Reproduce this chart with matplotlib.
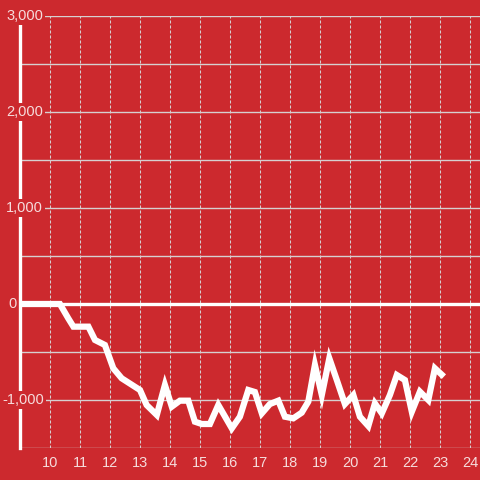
import matplotlib.pyplot as plt
from matplotlib.transforms import blended_transform_factory

# time (hour of day) and value
hours = [9.0, 10.33, 10.61, 10.78, 11.28, 11.5, 11.83, 12.11, 12.39, 13.0,
         13.22, 13.56, 13.83, 14.06, 14.33, 14.61, 14.83, 15.06, 15.33, 15.61,
         16.06, 16.33, 16.61, 16.83, 17.06, 17.33, 17.61, 17.83, 18.11, 18.39,
         18.61, 18.83, 19.06, 19.31, 19.56, 19.83, 20.11, 20.33, 20.61, 20.83,
         21.06, 21.33, 21.56, 21.83, 22.06, 22.33, 22.61, 22.83, 23.13]
values = [0, 0, -150, -236, -236, -375, -427, -670, -774, -896,
          -1052, -1156, -844, -1069, -1007, -1007, -1226, -1250, -1250, -1052,
          -1295, -1174, -896, -917, -1139, -1042, -1007, -1174, -1191, -1132,
          -1017, -635, -948, -566, -792, -1042, -948, -1174, -1271, -1035,
          -1139, -948, -740, -792, -1122, -913, -1000, -670, -757]

x_ticks = list(range(10, 25))
y_ticks = [3000, 2000, 1000, 0, -1000]
y_grid = [3000, 2500, 2000, 1500, 1000, 500, -500, -1000, -1500]

bg = "#cc292e"
grid_col = "#d6d0d0"
label_col = "#f6dcdc"

plt.rcParams["font.family"] = ["Liberation Sans", "DejaVu Sans"]

fig = plt.figure(figsize=(4.8, 4.8), dpi=100, facecolor=bg)
ax = fig.add_axes([20 / 480, 32 / 480, 460 / 480, 432 / 480], facecolor=bg)

ax.set_xlim(9, 24.333)
ax.set_ylim(-1500, 3000)

# grid
for y in y_grid:
    ax.axhline(y, color=grid_col, linewidth=1.0, zorder=1)
for x in x_ticks:
    ax.axvline(x, color=grid_col, linewidth=0.75, linestyle=(0, (2.9, 1.9)), zorder=1)
ax.axhline(0, color="white", linewidth=2.4, zorder=2)

# data line
ax.plot(hours, values, color="white", linewidth=4.5, solid_joinstyle="miter",
        solid_capstyle="butt", zorder=3)

for s in ["top", "right", "bottom"]:
    ax.spines[s].set_visible(False)
ax.spines["left"].set_color("white")
ax.spines["left"].set_linewidth(2.4)
ax.spines["left"].set_zorder(2)

ax.set_xticks(x_ticks)
ax.set_xticklabels([str(t) for t in x_ticks])
ax.tick_params(axis="x", length=0, pad=6, labelsize=10.5, colors=label_col)
ax.set_yticks([])

trans = blended_transform_factory(fig.transFigure, ax.transData)
for v in y_ticks:
    txt = f"{v:,}"
    xpos = 2 / 480 if v < 0 else 6 / 480
    if v == 0:
        xpos = 8 / 480
    ax.text(xpos, v, txt, transform=trans, ha="left", va="center",
            fontsize=10.5, color=label_col, zorder=5, clip_on=False,
            bbox=dict(boxstyle="square,pad=0.15", facecolor=bg, edgecolor="none"))

fig.savefig("out.png", dpi=100, facecolor=bg)
